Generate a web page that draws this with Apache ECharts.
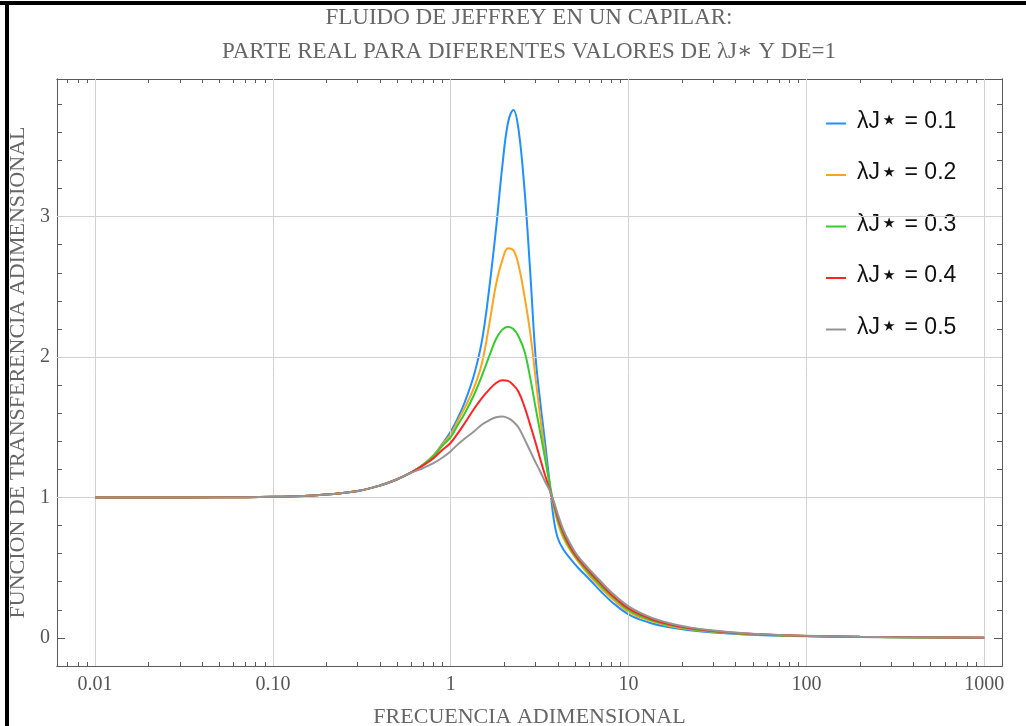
<!DOCTYPE html>
<html>
<head>
<meta charset="utf-8">
<script src="https://cdn.jsdelivr.net/npm/echarts@6/dist/echarts.min.js"></script>
<style>
  html, body { margin: 0; padding: 0; background: #ffffff; }
  #chart { width: 1026px; height: 726px; }
</style>
</head>
<body>
<div id="chart"></div>
<script>
// Dimensionless frequency (log axis) shared by every curve
const frequency = [0.01, 0.02, 0.05, 0.1, 0.15, 0.2, 0.3, 0.4, 0.5, 0.6,
  0.7, 0.8, 0.9, 1.0, 1.1, 1.2, 1.35, 1.5, 1.65, 1.8,
  1.95, 2.1, 2.25, 2.4, 2.6, 2.8, 3.0, 3.2, 3.4, 3.6,
  3.8, 4.0, 4.3, 4.7, 5.2, 6, 7, 8, 10, 13,
  17, 22, 30, 45, 70, 100, 200, 500, 1000];

// Real part of the dimensionless transfer function, one array per λJ* value
const lambda01 = [1.000, 1.000, 1.001, 1.005, 1.011, 1.021, 1.046, 1.085, 1.130, 1.178,
  1.235, 1.300, 1.385, 1.470, 1.570, 1.680, 1.870, 2.120, 2.500, 2.920,
  3.360, 3.670, 3.760, 3.630, 3.190, 2.600, 2.000, 1.660, 1.380, 1.100,
  0.840, 0.710, 0.630, 0.565, 0.500, 0.420, 0.330, 0.260, 0.168, 0.110,
  0.075, 0.055, 0.038, 0.024, 0.016, 0.012, 0.007, 0.003, 0.001];
const lambda02 = [1.000, 1.000, 1.001, 1.005, 1.011, 1.021, 1.046, 1.085, 1.130, 1.178,
  1.235, 1.300, 1.380, 1.450, 1.550, 1.640, 1.780, 1.960, 2.240, 2.520,
  2.690, 2.775, 2.760, 2.660, 2.430, 2.170, 1.850, 1.550, 1.300, 1.080,
  0.930, 0.820, 0.710, 0.625, 0.545, 0.445, 0.355, 0.285, 0.185, 0.125,
  0.085, 0.062, 0.043, 0.027, 0.018, 0.013, 0.007, 0.003, 0.001];
const lambda03 = [1.000, 1.000, 1.001, 1.005, 1.011, 1.021, 1.046, 1.085, 1.130, 1.178,
  1.233, 1.295, 1.370, 1.430, 1.520, 1.600, 1.730, 1.870, 2.010, 2.130,
  2.195, 2.216, 2.200, 2.150, 2.040, 1.850, 1.640, 1.450, 1.270, 1.100,
  0.950, 0.840, 0.730, 0.635, 0.555, 0.460, 0.370, 0.300, 0.198, 0.133,
  0.091, 0.066, 0.046, 0.029, 0.019, 0.014, 0.008, 0.003, 0.001];
const lambda04 = [1.000, 1.000, 1.001, 1.005, 1.011, 1.021, 1.046, 1.085, 1.130, 1.178,
  1.228, 1.280, 1.340, 1.390, 1.460, 1.530, 1.630, 1.710, 1.770, 1.815,
  1.835, 1.830, 1.800, 1.755, 1.645, 1.515, 1.390, 1.265, 1.155, 1.055,
  0.960, 0.860, 0.750, 0.650, 0.565, 0.475, 0.385, 0.310, 0.210, 0.142,
  0.097, 0.070, 0.049, 0.031, 0.020, 0.014, 0.008, 0.004, 0.002];
const lambda05 = [1.000, 1.000, 1.001, 1.005, 1.011, 1.021, 1.046, 1.085, 1.130, 1.176,
  1.210, 1.245, 1.285, 1.330, 1.380, 1.420, 1.470, 1.520, 1.550, 1.572,
  1.576, 1.565, 1.540, 1.500, 1.415, 1.330, 1.250, 1.180, 1.110, 1.050,
  0.970, 0.880, 0.770, 0.670, 0.580, 0.490, 0.400, 0.325, 0.225, 0.152,
  0.104, 0.075, 0.052, 0.033, 0.021, 0.015, 0.008, 0.004, 0.002];

const seriesNames = ['λJ⋆ = 0.1', 'λJ⋆ = 0.2', 'λJ⋆ = 0.3', 'λJ⋆ = 0.4', 'λJ⋆ = 0.5'];
const seriesValues = [lambda01, lambda02, lambda03, lambda04, lambda05];
const seriesColors = ['#1e90ff', '#ffa31f', '#34cc2e', '#ff2323', '#959595'];

// Axis ticks and labels
const xMajorTicks = [0.01, 0.1, 1, 10, 100, 1000];
const xTickLabels = ['0.01', '0.10', '1', '10', '100', '1000'];
const xMinorTicks = [0.007, 0.008, 0.009,
  0.02, 0.03, 0.04, 0.05, 0.06, 0.07, 0.08, 0.09,
  0.2, 0.3, 0.4, 0.5, 0.6, 0.7, 0.8, 0.9,
  2, 3, 4, 5, 6, 7, 8, 9,
  20, 30, 40, 50, 60, 70, 80, 90,
  200, 300, 400, 500, 600, 700, 800, 900];
const yMajorTicks = [0, 1, 2, 3];
const yTickLabels = ['0', '1', '2', '3'];
const yMinorTicks = [0.2, 0.4, 0.6, 0.8, 1.2, 1.4, 1.6, 1.8, 2.2, 2.4, 2.6, 2.8,
  3.2, 3.4, 3.6, 3.8];
const xGridLines = [0.01, 0.1, 1, 10, 100, 1000];
const yGridLines = [1, 2, 3];

const X_MIN = 0.00611, X_MAX = 1258;
const Y_MIN = -0.2, Y_MAX = 3.98;

const FRAME = '#5a5a5a';
const SERIF = "'Liberation Serif', 'DejaVu Serif', serif";
const SANS = "'Liberation Sans', Arial, sans-serif";

function xAxisDef(position, ticks, len, withLabels) {
  return {
    type: 'log', logBase: 10, min: X_MIN, max: X_MAX, position: position,
    axisLine: { show: true, onZero: false, lineStyle: { color: FRAME, width: 1 } },
    axisTick: { show: true, inside: true, length: len, customValues: ticks,
      lineStyle: { color: FRAME, width: 1 } },
    axisLabel: withLabels ? {
      show: true, customValues: xMajorTicks, margin: 9,
      fontFamily: SERIF, fontSize: 20, color: '#555',
      formatter: function (v) {
        for (let i = 0; i < xMajorTicks.length; i++) {
          if (Math.abs(Math.log10(v) - Math.log10(xMajorTicks[i])) < 1e-6) return xTickLabels[i];
        }
        return '';
      }
    } : { show: false },
    splitLine: { show: false }, minorTick: { show: false }, minorSplitLine: { show: false }
  };
}

function yAxisDef(position, ticks, len, withLabels) {
  return {
    type: 'value', min: Y_MIN, max: Y_MAX, position: position,
    axisLine: { show: true, onZero: false, lineStyle: { color: FRAME, width: 1 } },
    axisTick: { show: true, inside: true, length: len, customValues: ticks,
      lineStyle: { color: FRAME, width: 1 } },
    axisLabel: withLabels ? {
      show: true, customValues: yMajorTicks, margin: 7,
      fontFamily: SERIF, fontSize: 20, color: '#555',
      formatter: function (v) {
        const i = yMajorTicks.findIndex(t => Math.abs(t - v) < 1e-6);
        return i >= 0 ? yTickLabels[i] : '';
      }
    } : { show: false },
    splitLine: { show: false }, minorTick: { show: false }, minorSplitLine: { show: false }
  };
}

const xAxes = [
  xAxisDef('bottom', xMajorTicks, 8, true),
  xAxisDef('bottom', xMinorTicks, 4, false),
  xAxisDef('top', xMajorTicks, 8, false),
  xAxisDef('top', xMinorTicks, 4, false)
];
Object.assign(xAxes[0], {
  name: 'FRECUENCIA ADIMENSIONAL', nameLocation: 'middle', nameGap: 40,
  nameTextStyle: { fontFamily: SERIF, fontSize: 22, color: '#666' }
});

const yAxes = [
  yAxisDef('left', yMajorTicks, 8, true),
  yAxisDef('left', yMinorTicks, 5, false),
  yAxisDef('right', yMajorTicks, 8, false),
  yAxisDef('right', yMinorTicks, 5, false)
];
Object.assign(yAxes[0], {
  name: 'FUNCION DE TRANSFERENCIA ADIMENSIONAL', nameLocation: 'middle', nameGap: 25,
  nameRotate: 90,
  nameTextStyle: { fontFamily: SERIF, fontSize: 22, color: '#666' }
});

// Background grid lines, placed through the axes' own scales
const gridSeries = {
  name: 'grid', type: 'line', data: [], silent: true, z: 1,
  xAxisIndex: 0, yAxisIndex: 0, symbol: 'none',
  markLine: {
    silent: true, symbol: ['none', 'none'], animation: false,
    label: { show: false },
    lineStyle: { color: '#d2d2d2', width: 1, type: 'solid' },
    emphasis: { disabled: true },
    data: xGridLines.map(v => ({ xAxis: v })).concat(yGridLines.map(v => ({ yAxis: v })))
  }
};

const curveSeries = seriesNames.map((name, k) => ({
  name: name, type: 'line', xAxisIndex: 0, yAxisIndex: 0,
  data: frequency.map((f, i) => [f, seriesValues[k][i]]),
  showSymbol: false, symbol: 'none', smooth: 0.4, z: 3 + k,
  lineStyle: { color: seriesColors[k], width: 2 },
  itemStyle: { color: seriesColors[k] },
  emphasis: { disabled: true }, animation: false
}));

const chart = echarts.init(document.getElementById('chart'), null, { renderer: 'canvas' });
chart.setOption({
  backgroundColor: '#ffffff',
  animation: false,
  title: {
    text: 'FLUIDO DE JEFFREY EN UN CAPILAR:\nPARTE REAL PARA DIFERENTES VALORES DE λJ∗ Y DE=1',
    left: 529, top: 1, padding: 0, textAlign: 'center',
    textStyle: { fontFamily: SERIF, fontSize: 23, fontWeight: 'normal', color: '#666', lineHeight: 34 }
  },
  grid: { left: 57, right: 24, top: 79, bottom: 60, containLabel: false, outerBoundsMode: 'none' },
  legend: {
    data: seriesNames, orient: 'vertical', left: 826, top: 107, padding: 0,
    icon: 'rect', itemWidth: 20, itemHeight: 2, itemGap: 22,
    // the star is drawn a little larger than the surrounding text
    formatter: function (name) {
      const parts = name.split('⋆');
      return '{t|' + parts[0] + '}{s|⋆}{t|' + parts[1] + '}';
    },
    textStyle: {
      fontFamily: SANS, fontSize: 23, color: '#111', lineHeight: 22, padding: [0, 0, 4, 6],
      rich: {
        t: { fontFamily: SANS, fontSize: 23, color: '#111', lineHeight: 22 },
        s: { fontFamily: "'DejaVu Sans', sans-serif", fontSize: 29, color: '#111', lineHeight: 22 }
      }
    },
    selectedMode: false
  },
  xAxis: xAxes,
  yAxis: yAxes,
  series: [gridSeries].concat(curveSeries),
  graphic: [
    { type: 'rect', shape: { x: 0, y: 1, width: 1026, height: 4 }, style: { fill: '#000' }, silent: true, z: 100 },
    { type: 'rect', shape: { x: 5, y: 1, width: 4, height: 725 }, style: { fill: '#000' }, silent: true, z: 100 }
  ]
});
</script>
</body>
</html>
